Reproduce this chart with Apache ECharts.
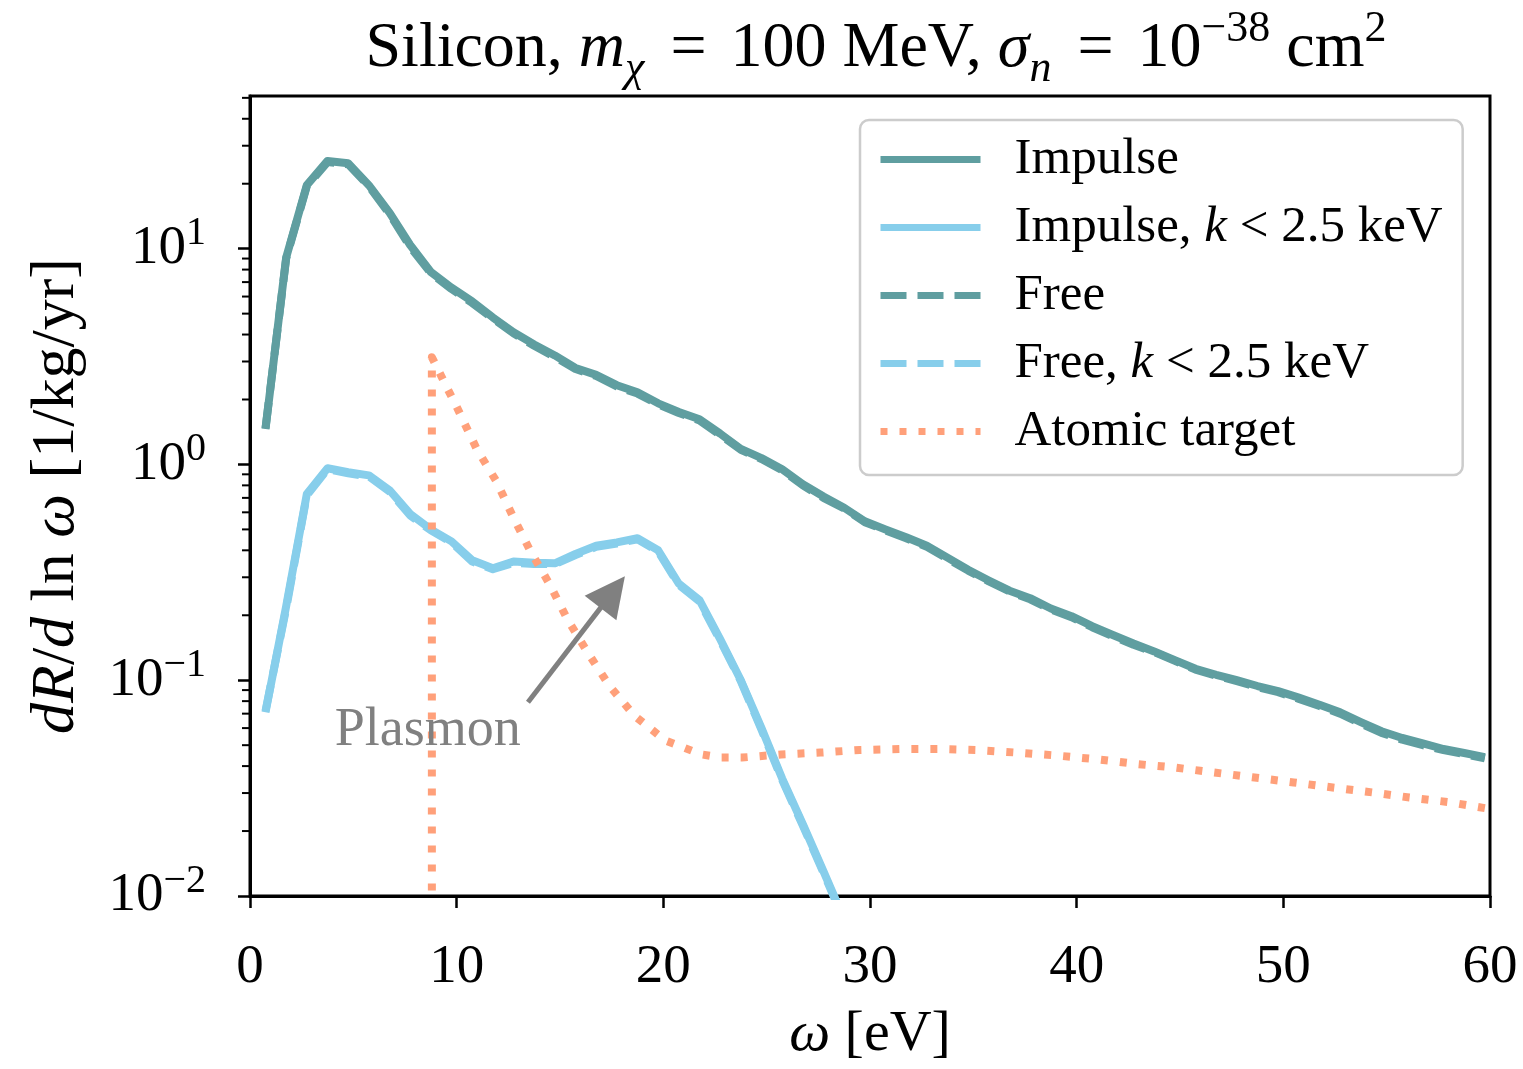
<!DOCTYPE html>
<html>
<head>
<meta charset="utf-8">
<script src="https://cdn.jsdelivr.net/npm/echarts@6.0.0/dist/echarts.min.js"></script>
<style>
  html, body { margin: 0; padding: 0; background: #fff; }
  #main { width: 1523px; height: 1069px; }
</style>
</head>
<body>
<div id="main"></div>
<script>
// omega grid [eV] shared by the four "impulse"/"free" curves
const omega = [0.75, 1.75, 2.75, 3.75, 4.75, 5.75, 6.75, 7.75, 8.75, 9.75,
  10.75, 11.75, 12.75, 13.75, 14.75, 15.75, 16.75, 17.75, 18.75, 19.75,
  20.75, 21.75, 22.75, 23.75, 24.75, 25.75, 26.75, 27.75, 28.75, 29.75,
  30.75, 31.75, 32.75, 33.75, 34.75, 35.75, 36.75, 37.75, 38.75, 39.75,
  40.75, 41.75, 42.75, 43.75, 44.75, 45.75, 46.75, 47.75, 48.75, 49.75,
  50.75, 51.75, 52.75, 53.75, 54.75, 55.75, 56.75, 57.75, 58.75, 59.75];

// dR/dln(omega) [1/kg/yr]
const impulseRate = [1.46, 9.1, 19.7, 25.5, 24.9, 19.7, 14.7, 10.4, 7.8, 6.6,
  5.7, 4.8, 4.1, 3.6, 3.2, 2.8, 2.6, 2.33, 2.16, 1.92,
  1.75, 1.62, 1.39, 1.18, 1.07, 0.95, 0.81, 0.71, 0.63, 0.545,
  0.5, 0.46, 0.42, 0.37, 0.325, 0.29, 0.26, 0.24, 0.215, 0.198,
  0.178, 0.162, 0.148, 0.136, 0.124, 0.113, 0.106, 0.1, 0.094, 0.089,
  0.083, 0.077, 0.071, 0.064, 0.058, 0.054, 0.051, 0.048, 0.046, 0.044];

const freeRate = [1.47, 9.0, 19.5, 25.2, 24.6, 19.5, 14.5, 10.2, 7.7, 6.5,
  5.6, 4.75, 4.05, 3.55, 3.15, 2.77, 2.57, 2.3, 2.13, 1.9,
  1.73, 1.6, 1.37, 1.17, 1.06, 0.94, 0.8, 0.7, 0.625, 0.54,
  0.495, 0.455, 0.415, 0.366, 0.322, 0.287, 0.258, 0.237, 0.213, 0.196,
  0.176, 0.16, 0.146, 0.135, 0.123, 0.112, 0.105, 0.099, 0.093, 0.088,
  0.082, 0.076, 0.07, 0.063, 0.057, 0.053, 0.05, 0.0475, 0.0455, 0.0435];

// k < 2.5 keV curves (first 30 omega points)
const impulseKRate = [0.071, 0.22, 0.73, 0.96, 0.92, 0.89, 0.76, 0.59, 0.5, 0.44,
  0.36, 0.33, 0.355, 0.35, 0.348, 0.385, 0.42, 0.435, 0.455, 0.4,
  0.28, 0.235, 0.155, 0.1, 0.06, 0.035, 0.0215, 0.013, 0.0078, 0.0047];

const freeKRate = [0.072, 0.215, 0.72, 0.95, 0.91, 0.88, 0.75, 0.58, 0.495, 0.435,
  0.355, 0.327, 0.35, 0.346, 0.345, 0.38, 0.415, 0.43, 0.45, 0.395,
  0.277, 0.232, 0.153, 0.099, 0.059, 0.0345, 0.0212, 0.0128, 0.0077, 0.0046];

// atomic target curve has its own omega sampling
const atomicOmega = [8.8, 8.8, 9.5, 10.0, 10.97, 11.94, 12.72, 13.55, 14.51, 15.38,
  16.35, 17.4, 18.6, 20.1, 21.85, 22.8, 23.8, 25.7, 27.6, 29.5,
  31.5, 33.3, 35.1, 37.1, 39.0, 41.0, 43.0, 44.75, 46.6, 48.5,
  50.5, 52.3, 54.3, 56.1, 58.05, 60];
const atomicRate = [0.0001, 3.14, 2.3, 1.85, 1.18, 0.83, 0.574, 0.40, 0.277, 0.19,
  0.134, 0.094, 0.0685, 0.0525, 0.0453, 0.0438, 0.0438, 0.0453, 0.0462, 0.0475,
  0.048, 0.048, 0.0475, 0.0462, 0.0448, 0.043, 0.0408, 0.0394, 0.0374, 0.0355,
  0.0336, 0.0319, 0.0302, 0.0286, 0.0272, 0.0253];

const xTicks = [0, 10, 20, 30, 40, 50, 60];
const yMinorTicks = [0.02, 0.03, 0.04, 0.05, 0.06, 0.07, 0.08, 0.09,
  0.2, 0.3, 0.4, 0.5, 0.6, 0.7, 0.8, 0.9,
  2, 3, 4, 5, 6, 7, 8, 9, 20, 30, 40, 50];

// annotation, in data coordinates
const arrowFrom = [13.45, 0.079];
const arrowTo = [17.55, 0.256];
const plasmonAt = [8.6, 0.0585];

const TEAL = '#5F9EA0';
const SKY = '#87CEEB';
const SALMON = '#FFA07A';
const FONT = '"Liberation Serif", "DejaVu Serif", serif';

const pairs = (xs, ys) => ys.map((y, i) => [xs[i], y]);

const myChart = echarts.init(document.getElementById('main'));

function lineSeries(name, xs, ys, color, type) {
  return {
    name: name,
    type: 'line',
    data: pairs(xs, ys),
    showSymbol: false,
    symbol: 'none',
    clip: true,
    animation: false,
    lineStyle: {
      color: color,
      width: 8,
      type: type,
      cap: 'butt',
      join: 'round'
    },
    itemStyle: { color: color }
  };
}

const supText = (e) => (e < 0 ? '\u2212' + (-e) : '' + e);

// rich text style helper
const txt = (size, extra) => Object.assign({
  fontFamily: FONT, fontSize: size, fontWeight: 'normal', color: '#000'
}, extra || {});

myChart.setOption({
  animation: false,
  title: {
    text: '{r|Silicon, }{i|m}{sub|\u03c7}{eq|=}{r|100 MeV, }{i|\u03c3}{sub|n}{eq|=}{r|10}{sup|\u221238}{r| cm}{sup|2}',
    left: 871,
    top: 2,
    textAlign: 'center',
    textStyle: {
      fontWeight: 'normal',
      rich: {
        r: txt(64, { lineHeight: 84 }),
        eq: txt(64, { lineHeight: 84, padding: [0, 24, 0, 26] }),
        i: txt(64, { fontStyle: 'italic', lineHeight: 84 }),
        sub: txt(44, { fontStyle: 'italic', lineHeight: 84, verticalAlign: 'bottom' }),
        sup: txt(44, { lineHeight: 84, verticalAlign: 'top' })
      }
    }
  },
  grid: {
    left: 250,
    top: 96,
    width: 1240,
    height: 803,
    show: true,
    borderColor: '#000',
    borderWidth: 3,
    backgroundColor: 'transparent'
  },
  legend: {
    orient: 'vertical',
    left: 860,
    top: 120,
    itemWidth: 100,
    itemHeight: 14,
    itemGap: 17,
    padding: [14, 20, 18, 17],
    backgroundColor: 'rgba(255,255,255,0.8)',
    borderColor: '#cccccc',
    borderWidth: 2.5,
    borderRadius: 9,
    itemStyle: { color: 'rgba(0,0,0,0)', borderColor: 'rgba(0,0,0,0)', borderWidth: 0, opacity: 0 },
    lineStyle: { width: 7 },
    data: ['Impulse', 'Impulse, k < 2.5 keV', 'Free', 'Free, k < 2.5 keV', 'Atomic target'],
    formatter: function (name) {
      const m = name.split(', k ');
      if (m.length === 2) return '{r|' + m[0] + ', }{i|k}{r| ' + m[1] + '}';
      return '{r|' + name + '}';
    },
    textStyle: {
      padding: [0, 0, 0, 29],
      rich: {
        r: txt(51),
        i: txt(51, { fontStyle: 'italic' })
      }
    }
  },
  xAxis: {
    type: 'value',
    min: 0,
    max: 60,
    interval: 10,
    name: '{i|\u03c9}{r| [eV]}',
    nameLocation: 'middle',
    nameGap: 110,
    nameTextStyle: {
      rich: {
        r: txt(58),
        i: txt(58, { fontStyle: 'italic' })
      }
    },
    splitLine: { show: false },
    axisLine: { show: true, lineStyle: { color: '#000', width: 3 } },
    axisTick: { show: true, length: 12, lineStyle: { color: '#000', width: 2.5 } },
    axisLabel: {
      margin: 44,
      fontFamily: FONT,
      fontSize: 55,
      color: '#000',
      formatter: (v) => (xTicks.indexOf(v) >= 0 ? '' + v : '')
    }
  },
  yAxis: {
    type: 'log',
    logBase: 10,
    min: 0.01,
    max: 51,
    splitNumber: 4,
    name: '{i|dR}{r|/}{i|d}{r| ln }{i|\u03c9}{r| [1/kg/yr]}',
    nameLocation: 'middle',
    nameGap: 162,
    nameRotate: 90,
    nameTextStyle: {
      rich: {
        r: txt(62),
        i: txt(62, { fontStyle: 'italic' })
      }
    },
    splitLine: { show: false },
    axisLine: { show: true, lineStyle: { color: '#000', width: 3 } },
    axisTick: { show: true, length: 12, lineStyle: { color: '#000', width: 2.5 } },
    axisLabel: {
      margin: 44,
      showMaxLabel: false,
      formatter: function (v) {
        const e = Math.round(Math.log10(v));
        if (Math.abs(Math.pow(10, e) - v) / v > 1e-6) return '';
        return '{b|10}{s|' + supText(e) + '}';
      },
      rich: {
        b: txt(55, { lineHeight: 70 }),
        s: txt(40, { lineHeight: 70, verticalAlign: 'top' })
      }
    }
  },
  series: [
    lineSeries('Impulse', omega, impulseRate, TEAL, 'solid'),
    lineSeries('Impulse, k < 2.5 keV', omega, impulseKRate, SKY, 'solid'),
    lineSeries('Free', omega, freeRate, TEAL, [26, 11]),
    lineSeries('Free, k < 2.5 keV', omega, freeKRate, SKY, [26, 11]),
    Object.assign(lineSeries('Atomic target', atomicOmega, atomicRate, SALMON, [7, 12]), {
      markLine: {
        silent: true,
        animation: false,
        symbol: ['none', 'triangle'],
        symbolSize: 40,
        lineStyle: { color: '#808080', width: 5, type: 'solid' },
        label: { show: false },
        data: [[{ coord: arrowFrom }, { coord: arrowTo }]]
      },
      markPoint: {
        silent: true,
        animation: false,
        symbol: 'circle',
        symbolSize: 0,
        data: [{ coord: plasmonAt }],
        label: {
          show: true,
          position: 'inside',
          formatter: 'Plasmon',
          fontFamily: FONT,
          fontSize: 54,
          color: '#808080'
        }
      }
    }),
    {
      // log minor ticks at 2..9 x 10^k, outside the left spine
      type: 'custom',
      silent: true,
      animation: false,
      data: yMinorTicks.map((v) => [0, v]),
      renderItem: function (params, api) {
        const p = api.coord([0, api.value(1)]);
        return {
          type: 'line',
          shape: { x1: p[0] - 8, y1: p[1], x2: p[0], y2: p[1] },
          style: { stroke: '#000', lineWidth: 2 }
        };
      }
    }
  ]
});
</script>
</body>
</html>
